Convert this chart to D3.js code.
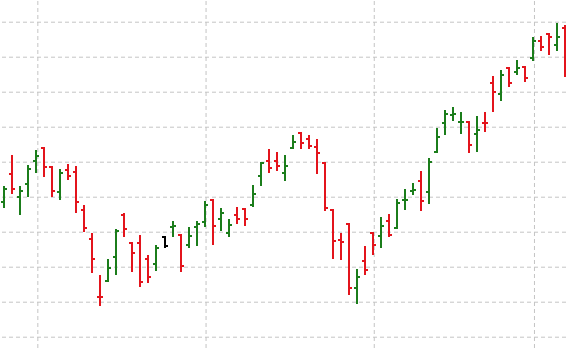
<!DOCTYPE html>
<html>
<head>
<meta charset="utf-8">
<script src="https://cdn.jsdelivr.net/npm/d3@7/dist/d3.min.js"></script>
<style>
  html, body { margin: 0; padding: 0; background: #fff; }
  svg { display: block; }
</style>
</head>
<body>
<svg id="chart" width="580" height="361"></svg>
<script>
// ---- data ----
const opens  = [79.29,83.29,80.00,81.86,85.14,86.96,84.29,80.63,83.86,83.53,
                78.14,73.91,65.71,67.91,71.43,77.43,73.43,73.43,71.06,70.39,
                74.20,75.63,74.53,73.10,75.63,76.34,79.53,76.81,74.77,77.39,
                78.20,78.81,83.00,85.14,85.10,83.34,86.91,89.06,88.20,87.14,
                84.86,78.10,73.81,76.10,67.00,70.86,74.77,74.39,76.57,75.57,
                79.49,80.86,82.29,80.71,86.34,90.57,91.67,90.63,90.71,88.96,
                90.57,96.24,94.67,98.34,97.86,98.49,99.77,102.24,103.24,101.67,
                104.06];
const highs  = [81.53,85.96,81.53,84.53,86.67,87.10,84.34,83.91,84.67,84.34,
                78.81,74.77,68.81,71.10,75.34,77.67,73.49,74.49,71.67,73.10,
                74.34,76.53,74.63,75.63,76.53,79.39,79.63,78.34,76.81,78.53,
                78.34,81.67,85.00,86.77,86.43,85.96,88.81,89.20,88.81,88.24,
                84.96,78.20,74.77,76.20,69.63,72.96,75.00,77.06,77.53,79.67,
                81.06,82.00,83.71,85.53,89.86,92.39,92.81,92.10,90.81,91.57,
                92.06,97.24,98.10,98.53,99.49,98.67,102.77,102.96,103.34,104.81,
                104.53];
const lows   = [78.43,80.43,77.43,80.00,83.39,82.86,80.00,79.57,82.43,77.63,
                74.91,69.06,64.43,67.77,68.86,74.29,69.29,67.14,67.71,69.43,
                72.63,74.29,69.29,72.71,73.00,75.71,73.10,75.10,74.29,76.06,
                75.81,78.57,81.57,83.34,83.71,82.29,86.77,86.77,86.86,83.20,
                77.96,71.06,70.91,65.91,64.63,68.81,71.67,72.71,74.29,75.43,
                78.14,80.24,77.96,78.96,86.20,88.81,90.81,88.96,86.29,86.43,
                89.29,92.14,93.67,95.71,97.39,96.43,99.39,100.86,100.24,100.86,
                97.14];
const closes = [81.14,81.10,80.86,84.00,85.86,84.29,80.86,83.39,83.00,79.20,
                75.57,71.14,65.65,69.86,75.06,75.43,72.00,67.86,68.49,72.71,
                73.00,75.81,70.10,74.43,76.06,78.81,75.81,77.71,75.96,76.77,
                76.77,80.39,84.86,84.14,84.43,84.45,87.86,87.63,87.29,86.29,
                78.43,73.71,73.60,67.00,68.57,69.57,73.14,75.81,74.53,79.14,
                79.56,80.96,79.43,85.00,88.53,91.77,91.86,90.71,87.39,89.53,
                90.50,95.00,97.39,96.20,98.34,97.00,102.20,101.43,102.77,102.77,
                97.40];
// one bar drawn in black in the reference (selected bar)
const selectedIndex = 20;
// month-start bars where the vertical grid lines fall
const monthStartIndex = [4, 25, 46, 66];
const yTicks = [60, 65, 70, 75, 80, 85, 90, 95, 100, 105];

const bars = d3.range(opens.length).map(i => ({
  i, o: opens[i], h: highs[i], l: lows[i], c: closes[i]
}));

const plot = { left: 0, right: 566, top: 0, bottom: 348 };

const svg = d3.select("#chart");

const x = d3.scalePoint()
  .domain(bars.map(d => d.i))
  .range([4.3, 565]);

const y = d3.scaleLinear()
  .domain([60, 105])
  .range([336.7, 21.7]);

const gridColor = "#c4c4c4";

// horizontal grid
const yAxis = d3.axisLeft(y)
  .tickValues(yTicks)
  .tickSize(-566)
  .tickFormat("");
const gy = svg.append("g")
  .attr("transform", `translate(2,0)`)
  .call(yAxis);
gy.select(".domain").remove();
gy.selectAll(".tick line")
  .attr("stroke", gridColor)
  .attr("stroke-width", 1)
  .attr("stroke-dasharray", "4,3");

// vertical grid
const xAxis = d3.axisBottom(x)
  .tickValues(monthStartIndex)
  .tickSize(-plot.bottom)
  .tickFormat("");
const gx = svg.append("g")
  .attr("transform", `translate(1,${plot.bottom})`)
  .call(xAxis);
gx.select(".domain").remove();
gx.selectAll(".tick line")
  .attr("stroke", gridColor)
  .attr("stroke-width", 1)
  .attr("stroke-dasharray", "4,3");

// clip for bars
svg.append("clipPath").attr("id", "clip")
  .append("rect")
  .attr("x", plot.left).attr("y", plot.top)
  .attr("width", plot.right - plot.left)
  .attr("height", plot.bottom - plot.top);

const up = "#1b7d1b", down = "#e3141c", sel = "#000000";
function color(d) {
  if (d.i === selectedIndex) return sel;
  return d.c >= d.o ? up : down;
}

const gBars = svg.append("g").attr("clip-path", "url(#clip)");
const g = gBars.selectAll("g.bar").data(bars).join("g").attr("class", "bar")
  .attr("stroke", color)
  .attr("stroke-width", 2)
  .attr("shape-rendering", "crispEdges");

g.append("line")
  .attr("x1", d => Math.round(x(d.i))).attr("x2", d => Math.round(x(d.i)))
  .attr("y1", d => y(d.h)).attr("y2", d => y(d.l));
g.append("line")
  .attr("x1", d => Math.round(x(d.i)) - 3).attr("x2", d => Math.round(x(d.i)))
  .attr("y1", d => y(d.o)).attr("y2", d => y(d.o));
g.append("line")
  .attr("x1", d => Math.round(x(d.i))).attr("x2", d => Math.round(x(d.i)) + 3)
  .attr("y1", d => y(d.c)).attr("y2", d => y(d.c));
</script>
</body>
</html>
